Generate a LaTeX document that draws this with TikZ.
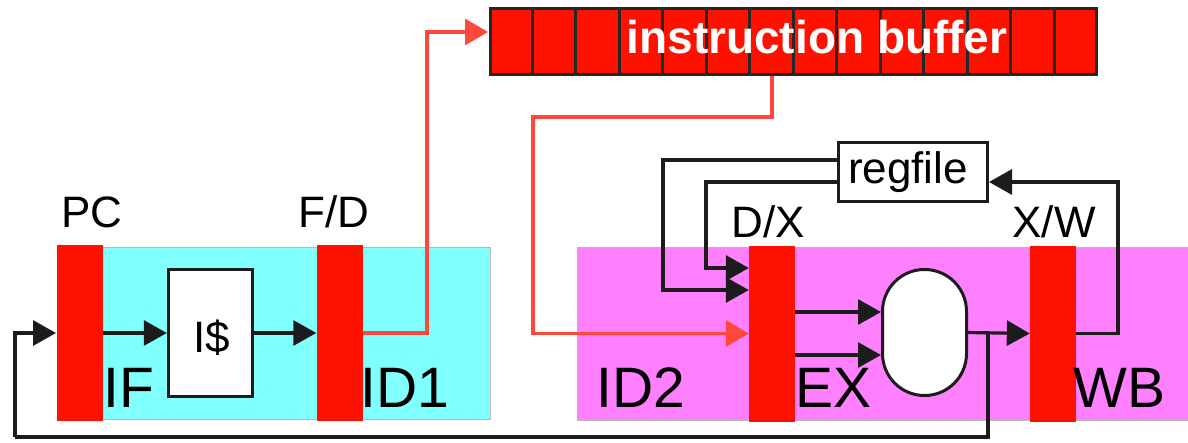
\documentclass[tikz,border=0pt]{standalone}
\usepackage{fontspec}
\setmainfont{Liberation Sans}
\usetikzlibrary{arrows.meta,calc}
\definecolor{regred}{RGB}{255,17,0}
\definecolor{cyanbg}{RGB}{128,255,255}
\definecolor{magbg}{RGB}{255,128,255}
\definecolor{wirered}{RGB}{255,72,60}
\definecolor{wireblk}{RGB}{28,28,28}
\tikzset{
  panel/.style={rectangle, draw=gray!55, line width=0.8pt, inner sep=0pt},
  pipereg/.style={rectangle, fill=regred, inner sep=0pt, minimum width=46pt, minimum height=176pt},
  unitbox/.style={rectangle, draw=wireblk, fill=white, line width=3.4pt, inner sep=0pt},
  wire/.style={draw=wireblk, line width=3.2pt, -{Triangle[length=23pt,width=25pt]}},
  plainwire/.style={draw=wireblk, line width=3.2pt},
  redwire/.style={draw=wirered, line width=3.3pt, -{Triangle[length=23pt,width=26pt]}},
  biglbl/.style={font=\fontsize{57}{60}\selectfont, anchor=base, inner sep=0pt},
  smalllbl/.style={font=\fontsize{44}{48}\selectfont, anchor=base, inner sep=0pt},
}
\begin{document}
\begin{tikzpicture}[x=1pt,y=-1pt]
\useasboundingbox (0,0) rectangle (1188,442);
% stage panels
\node[panel, fill=cyanbg, minimum width=433pt, minimum height=172pt] (cyanpanel) at (273.5,333) {};
\node[panel, fill=magbg, minimum width=611pt, minimum height=173pt] (magpanel) at (882.5,333.5) {};
% wires (drawn under the registers)
\coordinate (fbsplit) at (988,333);
\coordinate (fbcorner) at (15,437);
\draw[plainwire] (fbsplit) |- (fbcorner);
\draw[wire] (fbcorner) |- (56,333) coordinate (pcin);
% pipeline registers
\node[pipereg] (pc) at (80,333) {};
\node[pipereg] (fd) at (339.5,333) {};
\node[pipereg] (dx) at (772,333.5) {};
\node[pipereg] (xw) at (1053,333.5) {};
% units
\node[unitbox, minimum width=84pt, minimum height=127pt] (icache) at (210.5,333) {};
\node[unitbox, line width=3pt, minimum width=84pt, minimum height=126pt, rounded corners=41.9pt] (alu) at (924.5,332.5) {};
\node[unitbox, line width=3pt, minimum width=149pt, minimum height=59pt] (rf) at (913,172) {};
% instruction buffer
\node[rectangle, fill=regred, draw=black!85, line width=3.4pt, inner sep=0pt, minimum width=606pt, minimum height=66pt] (buf) at (793.5,41.5) {};
\foreach \i in {1,...,13}
  \draw[black!85, line width=3pt] ($(buf.north west)+(\i*43.5,0)$) -- ($(buf.south west)+(\i*43.5,0)$);
\node[font=\fontsize{46}{50}\selectfont\bfseries, text=white, anchor=base, inner sep=0pt] (buftext) at (817,53) {instruction buffer};
% connectors
\draw[wire] (pc.east) -- (icache.west);
\draw[wire] (icache.east) -- (fd.west);
\coordinate (bufin) at (488,32);
\draw[redwire] (fd.east) -| (427,32) -- (bufin);
\draw[redwire] ([xshift=-21.5pt]buf.south) |- (533,117) |- (dx.west);
\draw[wire] ([yshift=12pt]rf.west) -| (663,290) -- ([yshift=43.5pt]dx.west);
\draw[wire] ([yshift=-10pt]rf.west) -| (706,268) -- ([yshift=65.5pt]dx.west);
\draw[wire] ([yshift=21.5pt]dx.east) -- ([yshift=21.5pt]dx.east -| alu.west);
\draw[wire] ([yshift=-21.5pt]dx.east) -- ([yshift=-21.5pt]dx.east -| alu.west);
\draw[wire] (alu.east) -- (xw.west);
\draw[wire] (xw.east) -| (1118,182) -- ([yshift=-10pt]rf.east);
% labels
\node[smalllbl] (lpc) at (92,227) {PC};
\node[smalllbl] (lfd) at (334,227) {F/D};
\node[smalllbl] (ldx) at (768,237) {D/X};
\node[smalllbl] (lxw) at (1054,237) {X/W};
\node[smalllbl] (lrf) at (908,183) {regfile};
\node[smalllbl] (lic) at (211.5,352) {I\$};
\node[biglbl] (lif) at (128.5,407) {IF};
\node[biglbl] (lid1) at (405,407) {ID1};
\node[biglbl] (lid2) at (640.5,407) {ID2};
\node[biglbl] (lex) at (833.5,407) {EX};
\node[biglbl] (lwb) at (1119.5,407) {WB};
\end{tikzpicture}
\end{document}
